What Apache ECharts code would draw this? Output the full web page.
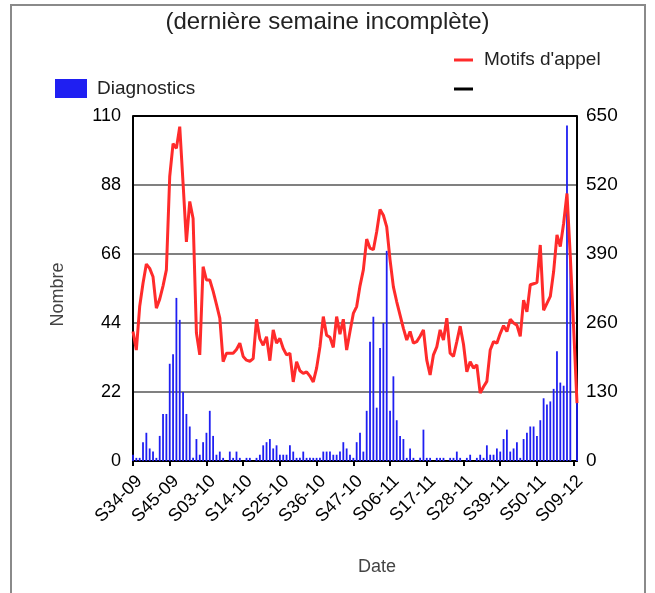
<!DOCTYPE html>
<html><head><meta charset="utf-8">
<script src="https://cdn.jsdelivr.net/npm/echarts@6/dist/echarts.min.js"></script>
<style>html,body{margin:0;padding:0;background:#fff}#c{width:655px;height:593px}</style>
</head><body><div id="c"></div>
<script>
var weeks = [
'S34-09','S35-09','S36-09','S37-09','S38-09','S39-09','S40-09','S41-09','S42-09','S43-09','S44-09','S45-09','S46-09','S47-09','S48-09','S49-09','S50-09','S51-09','S52-09','S53-09',
'S01-10','S02-10','S03-10','S04-10','S05-10','S06-10','S07-10','S08-10','S09-10','S10-10','S11-10','S12-10','S13-10','S14-10','S15-10','S16-10','S17-10','S18-10','S19-10','S20-10','S21-10','S22-10','S23-10','S24-10','S25-10','S26-10','S27-10','S28-10','S29-10','S30-10','S31-10','S32-10','S33-10','S34-10','S35-10','S36-10','S37-10','S38-10','S39-10','S40-10','S41-10','S42-10','S43-10','S44-10','S45-10','S46-10','S47-10','S48-10','S49-10','S50-10','S51-10','S52-10',
'S01-11','S02-11','S03-11','S04-11','S05-11','S06-11','S07-11','S08-11','S09-11','S10-11','S11-11','S12-11','S13-11','S14-11','S15-11','S16-11','S17-11','S18-11','S19-11','S20-11','S21-11','S22-11','S23-11','S24-11','S25-11','S26-11','S27-11','S28-11','S29-11','S30-11','S31-11','S32-11','S33-11','S34-11','S35-11','S36-11','S37-11','S38-11','S39-11','S40-11','S41-11','S42-11','S43-11','S44-11','S45-11','S46-11','S47-11','S48-11','S49-11','S50-11','S51-11','S52-11',
'S01-12','S02-12','S03-12','S04-12','S05-12','S06-12','S07-12','S08-12','S09-12','S10-12'
];
var diagnostics = [
2,1,1,6,9,4,3,1,8,15, 15,31,34,52,45,22,15,11,1,7,
2,6,9,16,8,2,3,1,0,3, 1,3,1,0,1,1,0,1,2,5,
6,7,4,5,2,2,2,5,3,1, 1,3,1,1,1,1,1,3,3,3,
2,2,3,6,4,2,1,6,9,3, 16,38,46,17,36,44,67,16,27,13,
8,7,1,4,1,0,1,10,1,1, 0,1,1,1,0,1,1,3,1,0,
1,2,0,1,2,1,5,2,2,4, 3,7,10,3,4,6,1,7,9,11,
11,8,13,20,18,19,23,35,25,24, 107,65,0,19
];
var motifs = [
244,209,291,335,371,363,347,288,305,330, 360,536,598,589,630,523,413,489,457,241,
200,366,341,341,320,295,269,187,203,203, 203,210,222,197,190,188,193,267,230,218,
234,189,247,222,231,212,200,203,149,187, 170,165,168,160,149,175,215,272,237,233,
214,272,239,267,209,244,278,291,330,360, 418,401,398,432,474,463,441,379,328,300,
275,250,228,244,222,225,235,247,190,162, 200,215,247,228,269,203,197,225,254,220,
168,187,175,181,128,140,150,209,225,222, 240,255,244,267,260,256,235,303,281,332,
334,336,407,284,297,310,357,426,404,448, 504,385,250,109
];
var leftTicks = {min: 0, max: 110, interval: 22};
var rightTicks = {min: 0, max: 650, interval: 130};

var FONT = "'Liberation Sans', Arial, sans-serif";
var chart = echarts.init(document.getElementById('c'), null, {renderer: 'canvas'});
chart.setOption({
  animation: false,
  textStyle: {fontFamily: FONT},
  graphic: [{type: 'rect', shape: {x: 11, y: 5, width: 634, height: 600},
    style: {fill: 'none', stroke: '#8a8a8a', lineWidth: 2}, silent: true}],
  title: {text: '(dernière semaine incomplète)', left: 'center', top: 5,
    textStyle: {fontFamily: FONT, fontSize: 24, fontWeight: 'normal', color: '#222'}},
  legend: [
    {data: ['Diagnostics'], left: 55, top: 79, padding: 0, icon: 'rect', itemWidth: 32, itemHeight: 19,
     textStyle: {fontFamily: FONT, fontSize: 19, color: '#222', padding: [0, 0, 0, 5]}},
    {data: ["Motifs d'appel", ' '], orient: 'vertical', left: 454, top: 50, padding: 0, icon: 'rect',
     itemWidth: 19, itemHeight: 3, itemGap: 9,
     textStyle: {fontFamily: FONT, fontSize: 19, color: '#222', lineHeight: 20, padding: [0, 0, 0, 6]}}
  ],
  grid: {left: 133, top: 116, right: 78, bottom: 132, containLabel: false},
  xAxis: {
    type: 'category', data: weeks, boundaryGap: false,
    name: 'Date', nameLocation: 'middle', nameGap: 97,
    nameTextStyle: {fontFamily: FONT, fontSize: 18, color: '#444', padding: [0, 0, 0, 44]},
    axisLine: {lineStyle: {color: '#000', width: 2}},
    axisTick: {show: true, interval: 10, length: 5, lineStyle: {color: '#000', width: 2}},
    axisLabel: {interval: 10, rotate: 45, margin: 11, verticalAlign: 'top', color: '#000', fontSize: 18, fontFamily: FONT},
    splitLine: {show: false}
  },
  yAxis: [
    {type: 'value', min: leftTicks.min, max: leftTicks.max, interval: leftTicks.interval,
     name: 'Nombre', nameLocation: 'middle', nameGap: 66, nameRotate: 90,
     nameTextStyle: {fontFamily: FONT, fontSize: 18, color: '#444', padding: [0, 12, 0, 0]},
     axisLine: {show: true, lineStyle: {color: '#000', width: 2}},
     axisTick: {show: false},
     axisLabel: {color: '#000', fontSize: 18, margin: 12, fontFamily: FONT},
     splitLine: {show: true, lineStyle: {color: ['#808080', '#808080', '#808080', '#808080', '#808080', '#000'], width: 2}}},
    {type: 'value', min: rightTicks.min, max: rightTicks.max, interval: rightTicks.interval,
     position: 'right',
     axisLine: {show: true, lineStyle: {color: '#000', width: 2}},
     axisTick: {show: false},
     axisLabel: {color: '#000', fontSize: 19, margin: 9, fontFamily: FONT},
     splitLine: {show: false}}
  ],
  series: [
    {name: 'Diagnostics', type: 'bar', yAxisIndex: 0, data: diagnostics, barWidth: 1.8,
     itemStyle: {color: '#1f1ff2'}},
    {name: "Motifs d'appel", type: 'line', yAxisIndex: 1, data: motifs, showSymbol: false,
     symbol: 'none', lineStyle: {color: '#ff2b2b', width: 3}, itemStyle: {color: '#ff2b2b'}},
    {name: ' ', type: 'line', yAxisIndex: 1, data: [], symbol: 'none',
     lineStyle: {color: '#000', width: 3}, itemStyle: {color: '#000'}}
  ]
});
</script></body></html>
